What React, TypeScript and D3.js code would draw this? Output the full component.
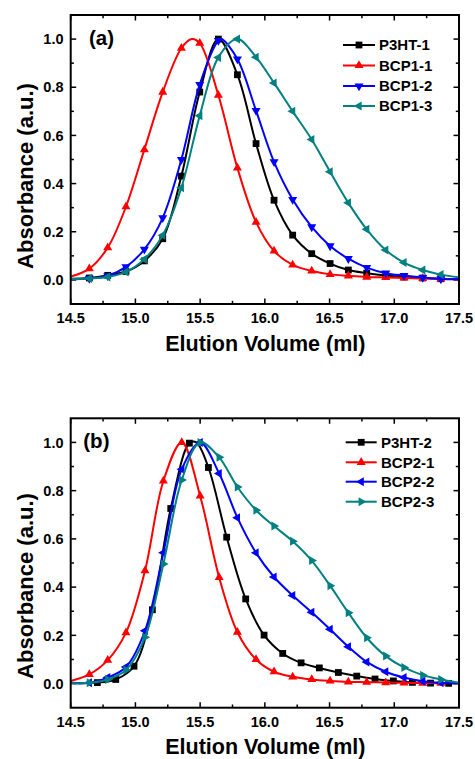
import React from "react";
import * as d3 from "d3";

// ---------- Data ----------
type Pt = [number, number, number]; // x, y, 1 = marker drawn

const P3HT_1: Pt[] = [
  [14.5, 0.005, 0], [14.644, 0.008, 1], [14.786, 0.019, 1], [14.927, 0.035, 1], [15.069, 0.079, 1],
  [15.211, 0.171, 1], [15.355, 0.431, 1], [15.497, 0.78, 1], [15.641, 1.0, 1], [15.788, 0.852, 1],
  [15.932, 0.566, 1], [16.071, 0.331, 1], [16.215, 0.186, 1], [16.362, 0.109, 1], [16.504, 0.068, 1],
  [16.645, 0.041, 1], [16.787, 0.028, 1], [16.934, 0.018, 1], [17.075, 0.012, 1], [17.22, 0.008, 1],
  [17.36, 0.005, 1], [17.5, 0.004, 0],
];
const BCP1_1: Pt[] = [
  [14.5, 0.014, 0], [14.644, 0.047, 1], [14.786, 0.134, 1], [14.927, 0.304, 1], [15.069, 0.541, 1],
  [15.211, 0.78, 1], [15.355, 0.962, 1], [15.435, 1.0, 0], [15.497, 0.983, 1], [15.641, 0.767, 1],
  [15.788, 0.465, 1], [15.932, 0.24, 1], [16.071, 0.12, 1], [16.215, 0.062, 1], [16.362, 0.037, 1],
  [16.504, 0.023, 1], [16.645, 0.017, 1], [16.787, 0.012, 1], [16.934, 0.01, 1], [17.075, 0.008, 1],
  [17.22, 0.006, 1], [17.36, 0.004, 1], [17.5, 0.003, 0],
];
const BCP1_2: Pt[] = [
  [14.5, 0.003, 0], [14.644, 0.006, 1], [14.786, 0.017, 1], [14.927, 0.054, 1], [15.069, 0.127, 1],
  [15.211, 0.258, 1], [15.355, 0.5, 1], [15.497, 0.811, 1], [15.641, 0.994, 1], [15.665, 1.0, 0],
  [15.788, 0.917, 1], [15.932, 0.703, 1], [16.071, 0.49, 1], [16.215, 0.334, 1], [16.362, 0.22, 1],
  [16.504, 0.141, 1], [16.645, 0.088, 1], [16.787, 0.051, 1], [16.934, 0.028, 1], [17.075, 0.018, 1],
  [17.22, 0.01, 1], [17.36, 0.004, 1], [17.5, 0.003, 0],
];
const BCP1_3: Pt[] = [
  [14.5, 0.004, 0], [14.644, 0.006, 1], [14.786, 0.012, 1], [14.927, 0.033, 1], [15.069, 0.086, 1],
  [15.211, 0.185, 1], [15.355, 0.383, 1], [15.497, 0.682, 1], [15.641, 0.924, 1], [15.788, 1.0, 1],
  [15.932, 0.925, 1], [16.071, 0.818, 1], [16.215, 0.7, 1], [16.362, 0.583, 1], [16.504, 0.449, 1],
  [16.645, 0.32, 1], [16.787, 0.21, 1], [16.934, 0.124, 1], [17.075, 0.072, 1], [17.22, 0.041, 1],
  [17.36, 0.022, 1], [17.5, 0.011, 0],
];

const P3HT_2: Pt[] = [
  [14.5, 0.003, 0], [14.706, 0.004, 1], [14.848, 0.017, 1], [14.989, 0.072, 1], [15.131, 0.306, 1],
  [15.273, 0.726, 1], [15.417, 0.997, 1], [15.47, 1.0, 0], [15.564, 0.896, 1], [15.705, 0.607, 1],
  [15.852, 0.351, 1], [15.994, 0.201, 1], [16.138, 0.125, 1], [16.28, 0.086, 1], [16.421, 0.065, 1],
  [16.568, 0.046, 1], [16.71, 0.031, 1], [16.851, 0.019, 1], [16.993, 0.011, 1], [17.14, 0.005, 1],
  [17.28, 0.002, 1], [17.42, 0.001, 1], [17.5, 0.001, 0],
];
const BCP2_1: Pt[] = [
  [14.5, 0.011, 0], [14.644, 0.038, 1], [14.786, 0.097, 1], [14.927, 0.211, 1], [15.074, 0.468, 1],
  [15.216, 0.84, 1], [15.358, 1.0, 1], [15.5, 0.778, 1], [15.647, 0.44, 1], [15.788, 0.213, 1],
  [15.932, 0.1, 1], [16.071, 0.049, 1], [16.215, 0.028, 1], [16.362, 0.017, 1], [16.504, 0.011, 1],
  [16.645, 0.007, 1], [16.787, 0.006, 1], [16.934, 0.004, 1], [17.075, 0.003, 1], [17.22, 0.002, 1],
  [17.36, 0.002, 1], [17.5, 0.002, 0],
];
const BCP2_2: Pt[] = [
  [14.5, 0.002, 0], [14.644, 0.003, 1], [14.786, 0.025, 1], [14.927, 0.069, 1], [15.074, 0.219, 1],
  [15.216, 0.542, 1], [15.358, 0.889, 1], [15.5, 1.0, 1], [15.647, 0.871, 1], [15.788, 0.688, 1],
  [15.932, 0.542, 1], [16.071, 0.442, 1], [16.215, 0.365, 1], [16.362, 0.296, 1], [16.504, 0.225, 1],
  [16.645, 0.153, 1], [16.787, 0.09, 1], [16.934, 0.049, 1], [17.075, 0.025, 1], [17.22, 0.01, 1],
  [17.36, 0.003, 1], [17.5, 0.001, 0],
];
const BCP2_3: Pt[] = [
  [14.5, 0.002, 0], [14.644, 0.003, 1], [14.786, 0.017, 1], [14.927, 0.056, 1], [15.074, 0.192, 1],
  [15.216, 0.496, 1], [15.358, 0.844, 1], [15.5, 1.0, 1], [15.647, 0.938, 1], [15.788, 0.815, 1],
  [15.932, 0.719, 1], [16.071, 0.653, 1], [16.215, 0.59, 1], [16.362, 0.51, 1], [16.504, 0.406, 1],
  [16.645, 0.294, 1], [16.787, 0.19, 1], [16.934, 0.114, 1], [17.075, 0.067, 1], [17.22, 0.035, 1],
  [17.36, 0.017, 1], [17.5, 0.004, 0],
];

const namesA = ["P3HT-1", "BCP1-1", "BCP1-2", "BCP1-3"];
const namesB = ["P3HT-2", "BCP2-1", "BCP2-2", "BCP2-3"];
const xTickLabels = ["14.5", "15.0", "15.5", "16.0", "16.5", "17.0", "17.5"];
const yTickLabels = ["0.0", "0.2", "0.4", "0.6", "0.8", "1.0"];

// ---------- Style ----------
const COLORS = ["#000000", "#FF0000", "#0000FF", "#008080"];
type Shape = "square" | "up" | "down" | "left" | "right";
const SHAPES_A: Shape[] = ["square", "up", "down", "left"];
const SHAPES_B: Shape[] = ["square", "up", "left", "right"];
const FONT = "'Liberation Sans', Arial, Helvetica, sans-serif";

function markerPath(shape: Shape): string {
  if (shape === "square") return "M-3.4,-3.4H3.4V3.4H-3.4Z";
  const r = 5.2;
  const pts: [number, number][] = [
    [0, -r],
    [r * 0.866, r * 0.5],
    [-r * 0.866, r * 0.5],
  ];
  const ang = { up: 0, down: 180, left: -90, right: 90 }[shape] * (Math.PI / 180);
  const rot = pts.map(([x, y]) => [x * Math.cos(ang) - y * Math.sin(ang), x * Math.sin(ang) + y * Math.cos(ang)]);
  return "M" + rot.map((p) => p[0].toFixed(2) + "," + p[1].toFixed(2)).join("L") + "Z";
}

interface PanelProps {
  top: number;
  bottom: number;
  series: Pt[][];
  names: string[];
  shapes: Shape[];
  label: string;
  labelX: number;
  labelY: number;
  legend: { x0: number; x1: number; tx: number; ys: number[] };
  yTitleCenter: number;
}

const LEFT = 70.7;
const RIGHT = 459;

function Panel(p: PanelProps) {
  const x = d3.scaleLinear().domain([14.5, 17.5]).range([LEFT, RIGHT]);
  const y = d3.scaleLinear().domain([-0.1, 1.1]).range([p.bottom, p.top]);
  const line = d3
    .line<Pt>()
    .x((d) => x(d[0]))
    .y((d) => y(d[1]))
    .curve(d3.curveCatmullRom.alpha(0.5));

  const xMajor = xTickLabels.map(Number);
  const xMinor = d3.range(14.75, 17.5, 0.5);
  const yMajor = yTickLabels.map(Number);
  const yMinor = d3.range(-0.1 + 0.2, 1.1, 0.2).map((v) => Math.round(v * 10) / 10).filter((v) => v > -0.1 && v < 1.1);

  const tickStroke = { stroke: "#000", strokeWidth: 1.5 };
  const MJ = 5.5;
  const MN = 3.2;

  return (
    <g>
      <defs>
        <clipPath id={"clip" + p.label}>
          <rect x={LEFT} y={p.top} width={RIGHT - LEFT} height={p.bottom - p.top} />
        </clipPath>
      </defs>
      {/* ticks */}
      {xMajor.map((v, i) => (
        <g key={"xm" + i}>
          <line x1={x(v)} x2={x(v)} y1={p.bottom} y2={p.bottom - MJ} {...tickStroke} />
          <line x1={x(v)} x2={x(v)} y1={p.top} y2={p.top + MJ} {...tickStroke} />
          <text x={x(v)} y={p.bottom + 19.3} textAnchor="middle" fontFamily={FONT} fontWeight="bold" fontSize={14.5}>
            {xTickLabels[i]}
          </text>
        </g>
      ))}
      {xMinor.map((v, i) => (
        <g key={"xn" + i}>
          <line x1={x(v)} x2={x(v)} y1={p.bottom} y2={p.bottom - MN} {...tickStroke} />
          <line x1={x(v)} x2={x(v)} y1={p.top} y2={p.top + MN} {...tickStroke} />
        </g>
      ))}
      {yMajor.map((v, i) => (
        <g key={"ym" + i}>
          <line x1={LEFT} x2={LEFT + MJ} y1={y(v)} y2={y(v)} {...tickStroke} />
          <line x1={RIGHT} x2={RIGHT - MJ} y1={y(v)} y2={y(v)} {...tickStroke} />
          <text x={63.5} y={y(v) + 5.2} textAnchor="end" fontFamily={FONT} fontWeight="bold" fontSize={14.5}>
            {yTickLabels[i]}
          </text>
        </g>
      ))}
      {yMinor.map((v, i) => (
        <g key={"yn" + i}>
          <line x1={LEFT} x2={LEFT + MN} y1={y(v)} y2={y(v)} {...tickStroke} />
          <line x1={RIGHT} x2={RIGHT - MN} y1={y(v)} y2={y(v)} {...tickStroke} />
        </g>
      ))}
      {/* series */}
      <g clipPath={`url(#clip${p.label})`}>
        {p.series.map((s, si) => (
          <g key={"s" + si}>
            <path d={line(s) || ""} fill="none" stroke={COLORS[si]} strokeWidth={2} />
            {s
              .filter((d) => d[2] === 1)
              .map((d, di) => (
                <path
                  key={di}
                  d={markerPath(p.shapes[si])}
                  transform={`translate(${x(d[0])},${y(d[1])})`}
                  fill={COLORS[si]}
                />
              ))}
          </g>
        ))}
      </g>
      {/* frame */}
      <rect x={LEFT} y={p.top} width={RIGHT - LEFT} height={p.bottom - p.top} fill="none" stroke="#000" strokeWidth={2} />
      {/* panel label */}
      <text x={p.labelX} y={p.labelY} fontFamily={FONT} fontWeight="bold" fontSize={20.5}>
        {p.label}
      </text>
      {/* legend */}
      {p.names.map((n, i) => (
        <g key={"lg" + i}>
          <line x1={p.legend.x0} x2={p.legend.x1} y1={p.legend.ys[i]} y2={p.legend.ys[i]} stroke={COLORS[i]} strokeWidth={2} />
          <path
            d={markerPath(p.shapes[i])}
            transform={`translate(${(p.legend.x0 + p.legend.x1) / 2},${p.legend.ys[i]})`}
            fill={COLORS[i]}
          />
          <text x={p.legend.tx} y={p.legend.ys[i] + 5.4} fontFamily={FONT} fontWeight="bold" fontSize={15}>
            {n}
          </text>
        </g>
      ))}
      {/* axis titles */}
      <text
        x={(LEFT + RIGHT) / 2 + 0.5}
        y={p.bottom + 46.5}
        textAnchor="middle"
        fontFamily={FONT}
        fontWeight="bold"
        fontSize={21.5}
      >
        Elution Volume (ml)
      </text>
      <text
        transform={`translate(33,${p.yTitleCenter}) rotate(-90)`}
        textAnchor="middle"
        fontFamily={FONT}
        fontWeight="bold"
        fontSize={22}
      >
        Absorbance (a.u.)
      </text>
    </g>
  );
}

export default function App() {
  return (
    <svg
      width={475}
      height={759}
      viewBox="0 0 475 759"
      style={{ position: "absolute", left: 0, top: 0, background: "#fff" }}
    >
      <rect x={0} y={0} width={475} height={759} fill="#fff" />
      <Panel
        top={15}
        bottom={304}
        series={[P3HT_1, BCP1_1, BCP1_2, BCP1_3]}
        names={namesA}
        shapes={SHAPES_A}
        label="(a)"
        labelX={89}
        labelY={44.5}
        legend={{ x0: 343, x1: 375, tx: 379, ys: [45, 65.5, 86, 106] }}
        yTitleCenter={176}
      />
      <Panel
        top={418.3}
        bottom={707.7}
        series={[P3HT_2, BCP2_1, BCP2_2, BCP2_3]}
        names={namesB}
        shapes={SHAPES_B}
        label="(b)"
        labelX={83.3}
        labelY={448}
        legend={{ x0: 345.7, x1: 376.7, tx: 381, ys: [442.3, 462.3, 481.7, 501.7] }}
        yTitleCenter={586}
      />
    </svg>
  );
}
